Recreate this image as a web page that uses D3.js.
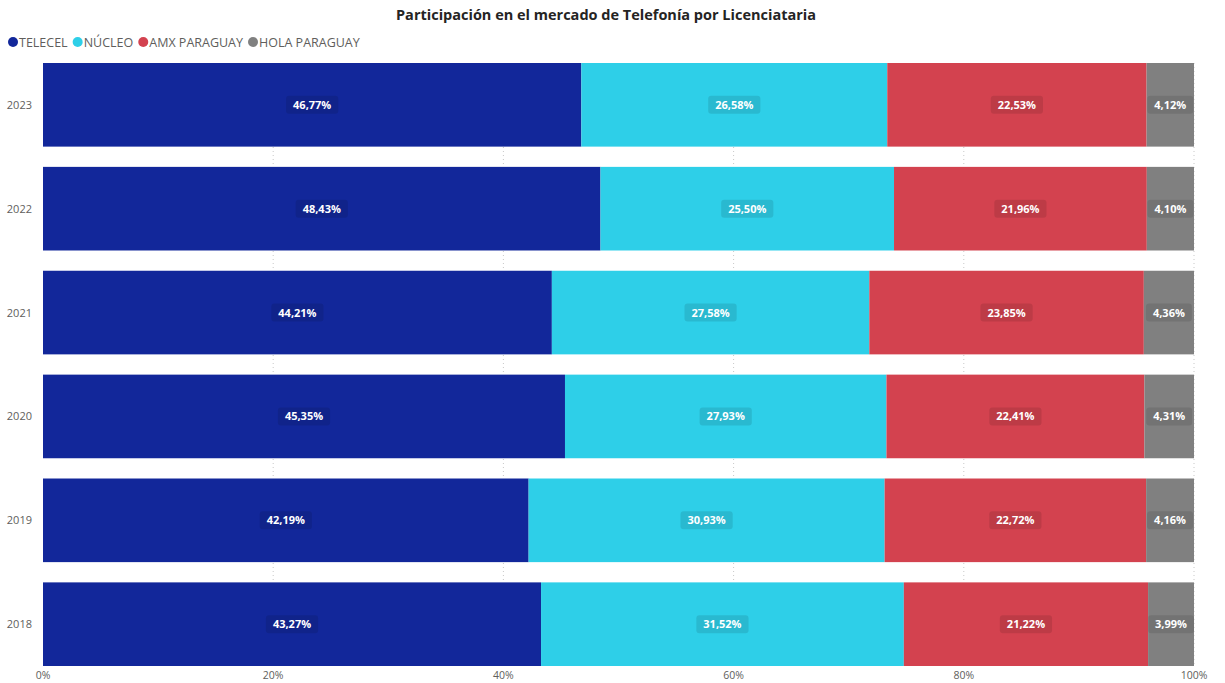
<!DOCTYPE html>
<html>
<head>
<meta charset="utf-8">
<script src="https://cdn.jsdelivr.net/npm/d3@7"></script>
<style>
  body { margin: 0; background: #fff; font-family: 'Open Sans', 'Segoe UI', sans-serif; }
</style>
</head>
<body>
<div id="chart"></div>
<script>
const years = ['2023', '2022', '2021', '2020', '2019', '2018']
const series = ['TELECEL', 'NÚCLEO', 'AMX PARAGUAY', 'HOLA PARAGUAY']
const colors = ['#12279A', '#2ECFE8', '#D3424F', '#808080']
const telecel = [46.77, 48.43, 44.21, 45.35, 42.19, 43.27]
const nucleo = [26.58, 25.50, 27.58, 27.93, 30.93, 31.52]
const amx = [22.53, 21.96, 23.85, 22.41, 22.72, 21.22]
const hola = [4.12, 4.10, 4.36, 4.31, 4.16, 3.99]
const xTicks = [0, 0.2, 0.4, 0.6, 0.8, 1]

const width = 1225
const height = 683
const margin = { top: 63, right: 31, bottom: 17, left: 43 }
const innerW = width - margin.left - margin.right
const innerH = height - margin.top - margin.bottom

const svg = d3.select('#chart').append('svg')
  .attr('width', width).attr('height', height)

// title
svg.append('text')
  .attr('x', 606).attr('y', 20)
  .attr('text-anchor', 'middle')
  .style('font-size', '14.5px').style('font-weight', 'bold').style('fill', '#252423')
  .text('Participación en el mercado de Telefonía por Licenciataria')

// legend
let lx = 13
series.forEach((s, i) => {
  const g = svg.append('g').attr('transform', `translate(${lx},42)`)
  g.append('circle').attr('r', 5).attr('fill', colors[i])
  const t = g.append('text').attr('x', 6).attr('y', 4.5)
    .style('font-size', '12.5px').style('fill', '#605E5C').text(s)
  lx += 6 + t.node().getComputedTextLength() + 10
})

const rows = years.map((y, i) => {
  const vals = [telecel[i], nucleo[i], amx[i], hola[i]]
  const total = d3.sum(vals)
  return { year: y, vals, total }
})

const x = d3.scaleLinear().domain([0, 1]).range([0, innerW])
const y = d3.scaleBand().domain(years).range([0, innerH]).paddingInner(0.195).paddingOuter(0)

const g = svg.append('g').attr('transform', `translate(${margin.left},${margin.top})`)

// gridlines
g.selectAll('.grid').data(xTicks.slice(1)).join('line')
  .attr('x1', d => x(d)).attr('x2', d => x(d))
  .attr('y1', 0).attr('y2', innerH)
  .attr('stroke', '#C8C8C8').attr('stroke-dasharray', '1,3')

// x axis labels
g.selectAll('.xt').data(xTicks).join('text')
  .attr('x', d => x(d)).attr('y', innerH + 13)
  .attr('text-anchor', 'middle')
  .style('font-size', '10.5px').style('fill', '#605E5C')
  .text(d => d3.format('.0%')(d))

// y axis labels
g.selectAll('.yt').data(years).join('text')
  .attr('x', -11).attr('y', d => y(d) + y.bandwidth() / 2 + 4)
  .attr('text-anchor', 'end')
  .style('font-size', '11px').style('fill', '#605E5C')
  .text(d => d)

rows.forEach(r => {
  let acc = 0
  r.vals.forEach((v, i) => {
    const x0 = acc / r.total
    acc += v
    const x1 = acc / r.total
    g.append('rect')
      .attr('x', x(x0)).attr('y', y(r.year))
      .attr('width', x(x1) - x(x0)).attr('height', y.bandwidth())
      .attr('fill', colors[i])
    const cx = (x(x0) + x(x1)) / 2
    const cy = y(r.year) + y.bandwidth() / 2
    const label = d3.format('.2f')(v).replace('.', ',') + '%'
    const bg = g.append('rect').attr('rx', 3).attr('fill', 'rgba(0,0,0,0.1)')
    const t = g.append('text')
      .attr('x', cx).attr('y', cy + 4)
      .attr('text-anchor', 'middle')
      .style('font-size', '11px').style('font-weight', 'bold').style('fill', '#fff')
      .text(label)
    const w = t.node().getComputedTextLength() + 14
    bg.attr('x', cx - w / 2).attr('y', cy - 9).attr('width', w).attr('height', 18)
  })
})
</script>
</body>
</html>
